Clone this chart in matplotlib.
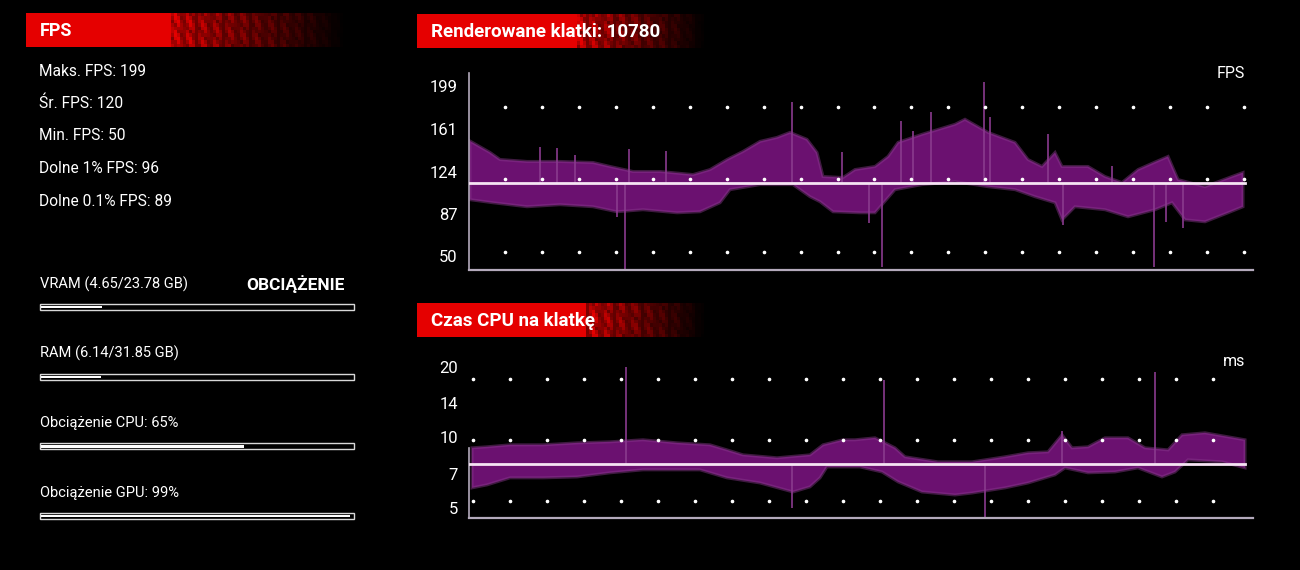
import numpy as np
import matplotlib.pyplot as plt
from matplotlib.patches import Rectangle

# ------------------------------------------------------------
# Dane
# ------------------------------------------------------------
total_frames = 10780

stat_lines = ['Maks. FPS: 199', 'Śr. FPS: 120', 'Min. FPS: 50',
              'Dolne 1% FPS: 96', 'Dolne 0.1% FPS: 89']

load_labels = ['VRAM (4.65/23.78 GB)', 'RAM (6.14/31.85 GB)',
               'Obciążenie CPU: 65%', 'Obciążenie GPU: 99%']
load_used = [4.65, 6.14, 65, 99]
load_total = [23.78, 31.85, 100, 100]

fps_ticks = [50, 87, 124, 161, 199]
ms_ticks = [5, 7, 10, 14, 20]

# FPS - gorna krawedz pasma
fps_up_x = [14, 292, 431, 806, 1264, 1723, 1959, 2278, 2653, 3112, 3348,
            3584, 3806, 4043, 4279, 4459, 4695, 4834, 4918, 5196, 5362,
            5640, 5821, 5960, 6293, 6752, 6890, 7210, 7585, 7766, 7960,
            8141, 8238, 8599, 8835, 9071, 9294, 9516, 9711, 9850, 10224,
            10600, 10752]
fps_up = [150.8, 140.8, 134.6, 132.9, 132.9, 132.0, 128.5, 124.1, 124.1,
          121.4, 125.8, 134.6, 141.7, 150.5, 154.0, 158.4, 152.3, 140.8,
          119.7, 118.8, 125.8, 128.5, 137.3, 149.6, 156.7, 165.5, 169.9,
          158.4, 149.6, 134.6, 128.5, 140.8, 128.5, 128.5, 119.7, 114.4,
          125.8, 132.0, 137.3, 117.0, 110.8, 119.7, 123.2]

# FPS - dolna krawedz pasma
fps_lo_x = [14, 333, 806, 1264, 1723, 2056, 2417, 2890, 3209, 3487, 3626,
            4043, 4501, 4737, 4876, 5057, 5432, 5640, 5918, 6293, 6752,
            7210, 7585, 7863, 8141, 8238, 8418, 8835, 9155, 9530, 9766,
            9947, 10224, 10544, 10752]
fps_lo = [99.4, 96.7, 93.2, 95.0, 93.2, 88.8, 90.6, 87.9, 88.8, 96.7,
          108.2, 112.6, 112.6, 102.0, 97.6, 88.8, 87.9, 87.9, 108.2, 112.6,
          115.2, 110.8, 108.2, 102.0, 96.7, 81.7, 93.2, 90.6, 84.4, 90.6,
          96.7, 81.7, 80.0, 87.9, 93.2]

# FPS - pojedyncze skoki
fps_spike_x = [2167, 4487, 5737, 7154, 9516, 986, 1222, 1472, 2222, 2736,
               5181, 6001, 6168, 6418, 7237, 8043, 8932, 2056, 5550, 8252,
               9918, 9683]
fps_spike = [38.0, 185.0, 40.6, 203.0, 40.3, 146.0, 145.0, 139.0, 143.5,
             141.7, 141.0, 168.0, 160.0, 176.0, 171.7, 156.7, 128.5, 84.4,
             79.0, 77.0, 74.7, 80.0]
fps_line = 114.1
fps_dot_rows = [180.8, 117.3, 53.8]

# Czas klatki (ms) - gorna krawedz
ms_up_x = [42, 250, 570, 1028, 1500, 1959, 2417, 2890, 3348, 3584, 3806,
           4279, 4737, 4918, 5196, 5362, 5640, 5918, 6057, 6515, 6988,
           7446, 7766, 8043, 8238, 8377, 8599, 8835, 9155, 9391, 9711,
           9905, 10224, 10544, 10780]
ms_up = [9.02, 9.11, 9.29, 9.29, 9.47, 9.57, 9.76, 9.47, 9.29, 8.84, 8.42,
         8.18, 8.42, 9.29, 9.76, 9.76, 9.95, 9.02, 8.26, 7.86, 7.86, 8.26,
         8.59, 8.67, 10.25, 9.02, 9.11, 9.95, 9.95, 9.02, 8.84, 10.25,
         10.45, 10.05, 9.76]

# Czas klatki (ms) - dolna krawedz
ms_lo_x = [42, 250, 570, 1028, 1500, 1959, 2417, 2890, 3209, 3584, 4043,
           4501, 4737, 4876, 4973, 5432, 5737, 5960, 6293, 6752, 6988,
           7446, 7766, 8141, 8280, 8599, 8974, 9294, 9627, 9808, 9988,
           10461, 10780]
ms_lo = [6.09, 6.27, 6.72, 6.72, 6.78, 7.06, 7.27, 7.27, 7.27, 6.72, 6.39,
         5.85, 6.15, 6.72, 7.48, 7.48, 7.12, 6.46, 5.85, 5.68, 5.79, 6.09,
         6.39, 6.92, 7.41, 7.06, 7.12, 7.41, 6.78, 7.12, 8.02, 7.86, 7.41]

ms_spike_x = [2181, 5765, 9530, 7168, 4487, 8238]
ms_spike = [20.0, 17.6, 18.9, 4.5, 5.0, 10.6]
ms_line = 7.71
ms_dot_rows = [17.8, 9.76, 5.36]

# ------------------------------------------------------------
# Styl
# ------------------------------------------------------------
BG = 'black'
BAND = '#6b1170'
SPIKE = '#8a3a8e'
AXIS = '#b4aabc'
LINE = '#f6e4f4'
FONT = ['Roboto', 'DejaVu Sans']

fig = plt.figure(figsize=(13, 5.7), dpi=100, facecolor=BG)

# warstwa tla w pikselach
bg = fig.add_axes([0, 0, 1, 1])
bg.set_xlim(0, 1300)
bg.set_ylim(570, 0)
bg.axis('off')
bg.set_facecolor(BG)


def header(x0, y0, w, h, solid, text, size):
    """Czerwony naglowek z zanikajacym, pikselowym koncem."""
    nx = int(w / 3)
    ny = 10
    u = np.linspace(0, 1, nx)
    fade = np.clip(1 - (u - solid) / (1 - solid), 0, 1)
    cols = np.arange(nx)
    rows = np.arange(ny)[:, None]
    pat = 0.5 + 0.5 * np.abs(np.cos(cols * 2.3 + rows * 0.6) * np.cos(cols * 0.7))
    pat = np.where(u < solid, 1.0, pat)
    a = np.clip(fade * pat * 1.1, 0, 1)
    img = np.zeros((ny, nx, 4))
    img[..., 0] = 0.9
    img[..., 3] = a
    bg.imshow(img, extent=(x0, x0 + w, y0 + h, y0), aspect='auto',
              interpolation='nearest', zorder=1)
    bg.text(x0 + 14, y0 + h / 2 + 1, text, color='white', fontsize=size,
            fontweight='bold', family=FONT, va='center', ha='left', zorder=3)


header(26, 13, 320, 34, 0.45, 'FPS', 13)
header(417, 14, 290, 34, 0.55, f'Renderowane klatki: {total_frames}', 13.5)
header(417, 303, 290, 34, 0.58, 'Czas CPU na klatkę', 13.5)

# statystyki FPS
for i, s in enumerate(stat_lines):
    bg.text(39, 71 + i * 32.5, s, color='white', fontsize=11.2, family=FONT,
            va='center', ha='left')

bg.text(345, 284, 'OBCIĄŻENIE', color='white', fontsize=12.5,
        fontweight='bold', family=FONT, va='center', ha='right')

# paski obciazenia
bar_x, bar_w = 40, 314
for i, (lab, used, tot) in enumerate(zip(load_labels, load_used, load_total)):
    ty = 284 + i * 69.7
    by = ty + 23
    bg.text(bar_x, ty, lab, color='white', fontsize=10.5, family=FONT,
            va='center', ha='left')
    bg.add_patch(Rectangle((bar_x, by - 3), bar_w, 6, fill=False,
                           edgecolor='#d8d8d8', lw=1.0))
    bg.add_patch(Rectangle((bar_x + 1, by - 1), (bar_w - 2) * used / tot, 2.2,
                           facecolor='white', edgecolor='none'))


def style_axes(ax):
    ax.set_facecolor('none')
    for s in ['top', 'right']:
        ax.spines[s].set_visible(False)
    ax.spines['left'].set_color(AXIS)
    ax.spines['bottom'].set_color(AXIS)
    ax.spines['left'].set_linewidth(1.2)
    ax.spines['bottom'].set_linewidth(1.6)
    ax.tick_params(axis='y', length=0, colors='white', labelsize=12, pad=8)
    ax.tick_params(axis='x', length=0, labelbottom=False)
    for t in ax.get_yticklabels():
        t.set_family(FONT)


def draw_band(ax, ux, uy, lx, ly):
    xs = np.r_[ux, lx[::-1]]
    ys = np.r_[uy, ly[::-1]]
    ax.fill(xs, ys, color=BAND, lw=0, zorder=2)
    ax.fill(xs, ys, fc='none', ec=SPIKE, lw=2.2, alpha=0.45, zorder=2)


# ------------------------------------------------------------
# Wykres FPS
# ------------------------------------------------------------
ax1 = fig.add_axes([469 / 1300, 1 - 270 / 570, 784 / 1300, 197 / 570])
draw_band(ax1, fps_up_x, fps_up, fps_lo_x, fps_lo)
ax1.vlines(fps_spike_x, fps_line, fps_spike, color=SPIKE, lw=1.2, zorder=2)
ax1.axhline(fps_line, xmin=0, xmax=10780 / 10891, color=LINE, lw=2, zorder=4)
dot_x = np.linspace(500, 10766, 21)
for r in fps_dot_rows:
    ax1.plot(dot_x, [r] * len(dot_x), ls='none', marker='o', ms=1.6,
             color='white', zorder=3)
ax1.set_xlim(0, 10891)
ax1.set_ylim(37.7, 210.5)
ax1.set_yticks(fps_ticks)
ax1.set_yticklabels([str(t) for t in fps_ticks])
style_axes(ax1)
ax1.text(0.99, 1.035, 'FPS', transform=ax1.transAxes, color='white',
         fontsize=11.5, family=FONT, ha='right', va='top')

# ------------------------------------------------------------
# Wykres czasu klatki (skala log)
# ------------------------------------------------------------
ax2 = fig.add_axes([469 / 1300, 1 - 518 / 570, 784 / 1300, 161 / 570])
ax2.set_yscale('log')
draw_band(ax2, ms_up_x, ms_up, ms_lo_x, ms_lo)
ax2.vlines(ms_spike_x, ms_line, ms_spike, color=SPIKE, lw=1.2, zorder=2)
ax2.axhline(ms_line, xmin=0, xmax=10780 / 10891, color=LINE, lw=2, zorder=4)
dot_x2 = np.linspace(56, 10336, 21)
for r in ms_dot_rows:
    ax2.plot(dot_x2, [r] * len(dot_x2), ls='none', marker='o', ms=1.6,
             color='white', zorder=3)
ax2.set_xlim(0, 10891)
ax2.set_ylim(4.53, 22)
ax2.set_yticks(ms_ticks)
ax2.set_yticklabels([str(t) for t in ms_ticks])
ax2.yaxis.set_minor_locator(plt.NullLocator())
style_axes(ax2)
ax2.spines['left'].set_bounds(4.53, 9.0)
ax2.text(0.99, 1.02, 'ms', transform=ax2.transAxes, color='white',
         fontsize=11.5, family=FONT, ha='right', va='top')

plt.savefig('out.png', dpi=100, facecolor=BG)
